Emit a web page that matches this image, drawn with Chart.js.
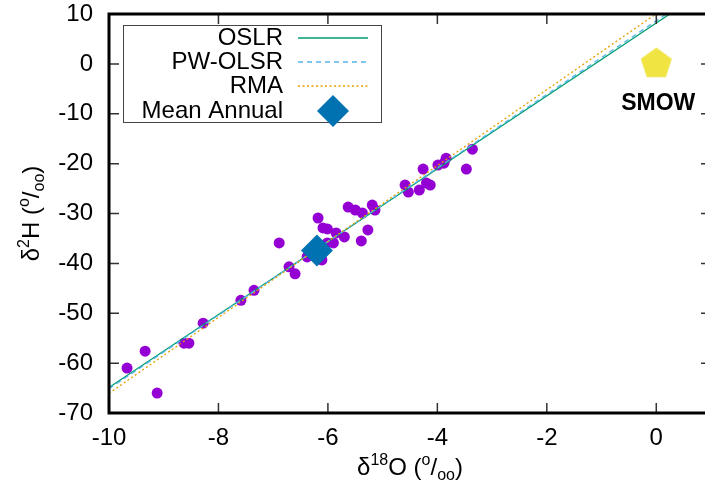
<!DOCTYPE html>
<html>
<head>
<meta charset="utf-8">
<script src="https://cdn.jsdelivr.net/npm/chart.js@4.4.1/dist/chart.umd.min.js"></script>
<style>
  html, body { margin: 0; padding: 0; background: #fff; overflow: hidden; }
</style>
</head>
<body>
<canvas id="chart" width="711" height="490"></canvas>
<script>
"use strict";

// sample isotopes (per mil)
const d18O = [-9.67, -9.34, -9.12, -8.63, -8.54, -8.28, -7.59, -7.35, -6.71, -6.60,
  -6.89, -6.18, -6.09, -6.01, -5.85, -5.70, -5.90, -6.01, -6.11, -6.38,
  -5.63, -5.50, -5.37, -5.19, -5.14, -5.27, -5.39, -4.59, -4.53, -4.33,
  -4.20, -4.13, -4.26, -3.99, -3.88, -3.84, -3.47, -3.36];
const d2H = [-61.0, -57.6, -66.0, -56.0, -56.0, -52.0, -47.4, -45.4, -40.7, -42.1,
  -35.9, -30.9, -32.9, -33.1, -33.9, -34.7, -35.9, -35.9, -39.3, -38.7,
  -28.7, -29.3, -29.9, -28.3, -29.3, -33.3, -35.5, -24.3, -25.7, -25.3,
  -23.9, -24.3, -21.1, -20.3, -19.9, -18.9, -21.1, -17.1];

const meanAnnual = { x: -6.2, y: -37.4 };
const smow = { x: 0, y: 0 };
const smowLabel = "SMOW";

// fitted lines
const lineNames = ["OSLR", "PW-OLSR", "RMA"];
const slopes = [7.31, 7.38, 7.61];
const intercepts = [8.2, 8.65, 10.05];
const lineColors = ["#009e73", "#56b4e9", "#e69f00"];
const lineDashes = [[], [5, 4], [2, 2.5]];

const xTicks = [-10, -8, -6, -4, -2, 0];
const yTicks = [10, 0, -10, -20, -30, -40, -50, -60, -70];
const xMin = -10, xMax = 1;

const FONT = '"Liberation Sans", Arial, sans-serif';

function pentagon(r, color) {
  const c = document.createElement("canvas");
  const s = Math.ceil(r * 2) + 2;
  c.width = s;
  c.height = s;
  const g = c.getContext("2d");
  g.fillStyle = color;
  g.beginPath();
  for (let i = 0; i < 5; i++) {
    const a = -Math.PI / 2 + i * 2 * Math.PI / 5;
    g.lineTo(s / 2 + r * Math.cos(a), s / 2 + r * Math.sin(a));
  }
  g.closePath();
  g.fill();
  return c;
}

function drawRich(ctx, parts, cx, cy, angle) {
  ctx.save();
  ctx.translate(cx, cy);
  ctx.rotate(angle);
  let total = 0;
  parts.forEach(p => {
    ctx.font = p.s + "px " + FONT;
    p.w = ctx.measureText(p.t).width;
    total += p.w;
  });
  let x = -total / 2;
  ctx.fillStyle = "#000";
  ctx.textBaseline = "alphabetic";
  ctx.textAlign = "left";
  parts.forEach(p => {
    ctx.font = p.s + "px " + FONT;
    ctx.fillText(p.t, x, 8.5 + p.dy);
    x += p.w;
  });
  ctx.restore();
}

const lineSets = lineNames.map((name, i) => ({
  type: "line",
  label: name,
  data: [xMin, xMax].map(x => ({ x: x, y: slopes[i] * x + intercepts[i] })),
  borderColor: lineColors[i],
  borderWidth: 1.3,
  borderDash: lineDashes[i],
  pointRadius: 0,
  fill: false,
  order: 3 - i
}));

const framePlugin = {
  id: "frame",
  afterDatasetsDraw(chart) {
    const ctx = chart.ctx;
    const a = chart.chartArea;
    const xs = chart.scales.x, ys = chart.scales.y;
    ctx.save();
    ctx.strokeStyle = "#333";
    ctx.lineWidth = 1.5;
    ctx.beginPath();
    xTicks.forEach(v => {
      const px = xs.getPixelForValue(v);
      ctx.moveTo(px, a.bottom); ctx.lineTo(px, a.bottom - 10);
      ctx.moveTo(px, a.top); ctx.lineTo(px, a.top + 10);
    });
    yTicks.forEach(v => {
      const py = ys.getPixelForValue(v);
      ctx.moveTo(a.left, py); ctx.lineTo(a.left + 10, py);
      ctx.moveTo(a.right, py); ctx.lineTo(a.right - 10, py);
    });
    ctx.stroke();
    ctx.strokeStyle = "#000";
    ctx.lineWidth = 3;
    ctx.strokeRect(a.left, a.top, a.right - a.left, a.bottom - a.top);

    // SMOW label
    ctx.font = "bold 23px " + FONT;
    ctx.fillStyle = "#000";
    ctx.textAlign = "center";
    ctx.textBaseline = "middle";
    ctx.fillText(smowLabel, xs.getPixelForValue(smow.x) + 2, ys.getPixelForValue(smow.y) + 40);
    ctx.restore();
  },
  afterDraw(chart) {
    const ctx = chart.ctx;
    // legend
    ctx.save();
    ctx.fillStyle = "#fff";
    ctx.fillRect(123.5, 25.5, 258, 97);
    ctx.strokeStyle = "#444";
    ctx.lineWidth = 1;
    ctx.strokeRect(123.5, 25.5, 258, 97);
    const rows = [38, 62, 86, 111];
    ctx.font = "24px " + FONT;
    ctx.textAlign = "right";
    ctx.textBaseline = "middle";
    ctx.fillStyle = "#000";
    lineNames.forEach((name, i) => {
      ctx.fillText(name, 283, rows[i]);
      ctx.strokeStyle = lineColors[i];
      ctx.lineWidth = 1.5;
      ctx.setLineDash(lineDashes[i]);
      ctx.beginPath();
      ctx.moveTo(298, rows[i]);
      ctx.lineTo(368, rows[i]);
      ctx.stroke();
    });
    ctx.setLineDash([]);
    ctx.fillText("Mean Annual", 283, rows[3]);
    ctx.fillStyle = "#0072b2";
    ctx.beginPath();
    ctx.moveTo(333, rows[3] - 16);
    ctx.lineTo(349, rows[3]);
    ctx.lineTo(333, rows[3] + 16);
    ctx.lineTo(317, rows[3]);
    ctx.closePath();
    ctx.fill();
    ctx.restore();

    const a = chart.chartArea;
    drawRich(ctx, [
      { t: "\u03b4", s: 24, dy: 0 }, { t: "18", s: 16, dy: -10 }, { t: "O (", s: 24, dy: 0 },
      { t: "o", s: 16, dy: -10 }, { t: "/", s: 24, dy: 0 }, { t: "oo", s: 16, dy: 5 }, { t: ")", s: 24, dy: 0 }
    ], (a.left + a.right) / 2, 466, 0);
    drawRich(ctx, [
      { t: "\u03b4", s: 24, dy: 0 }, { t: "2", s: 16, dy: -10 }, { t: "H (", s: 24, dy: 0 },
      { t: "o", s: 16, dy: -10 }, { t: "/", s: 24, dy: 0 }, { t: "oo", s: 16, dy: 5 }, { t: ")", s: 24, dy: 0 }
    ], 30, (a.top + a.bottom) / 2, -Math.PI / 2);
  }
};

new Chart(document.getElementById("chart"), {
  type: "scatter",
  data: {
    datasets: [
      {
        label: "SMOW",
        data: [smow],
        pointStyle: pentagon(16.3, "#f0e442"),
        pointRadius: 16,
        order: 0
      },
      {
        label: "Mean Annual",
        data: [meanAnnual],
        pointStyle: "rectRot",
        pointRadius: 16,
        backgroundColor: "#0072b2",
        borderWidth: 0,
        order: 1
      },
      ...lineSets,
      {
        label: "samples",
        data: d18O.map((x, i) => ({ x: x, y: d2H[i] })),
        pointRadius: 5.5,
        backgroundColor: "#9400d3",
        borderWidth: 0,
        order: 10
      }
    ]
  },
  options: {
    responsive: false,
    animation: false,
    events: [],
    layout: { autoPadding: false, padding: { left: 0, top: 14, right: 0, bottom: 0 } },
    plugins: {
      legend: { display: false },
      tooltip: { enabled: false }
    },
    scales: {
      x: {
        type: "linear",
        min: xMin,
        max: xMax,
        afterBuildTicks: s => { s.ticks = xTicks.map(v => ({ value: v })); },
        afterFit: s => { s.height = 77; s.paddingLeft = 0; s.paddingRight = 0; },
        grid: { display: false, drawTicks: false },
        border: { display: false },
        ticks: { color: "#000", padding: 11, maxRotation: 0, font: { family: FONT, size: 24 } }
      },
      y: {
        min: -70,
        max: 10,
        afterBuildTicks: s => { s.ticks = yTicks.map(v => ({ value: v })); },
        afterFit: s => { s.width = 109; s.paddingTop = 0; s.paddingBottom = 0; },
        grid: { display: false, drawTicks: false },
        border: { display: false },
        ticks: { color: "#000", padding: 16, font: { family: FONT, size: 24 } }
      }
    }
  },
  plugins: [framePlugin]
});
</script>
</body>
</html>
